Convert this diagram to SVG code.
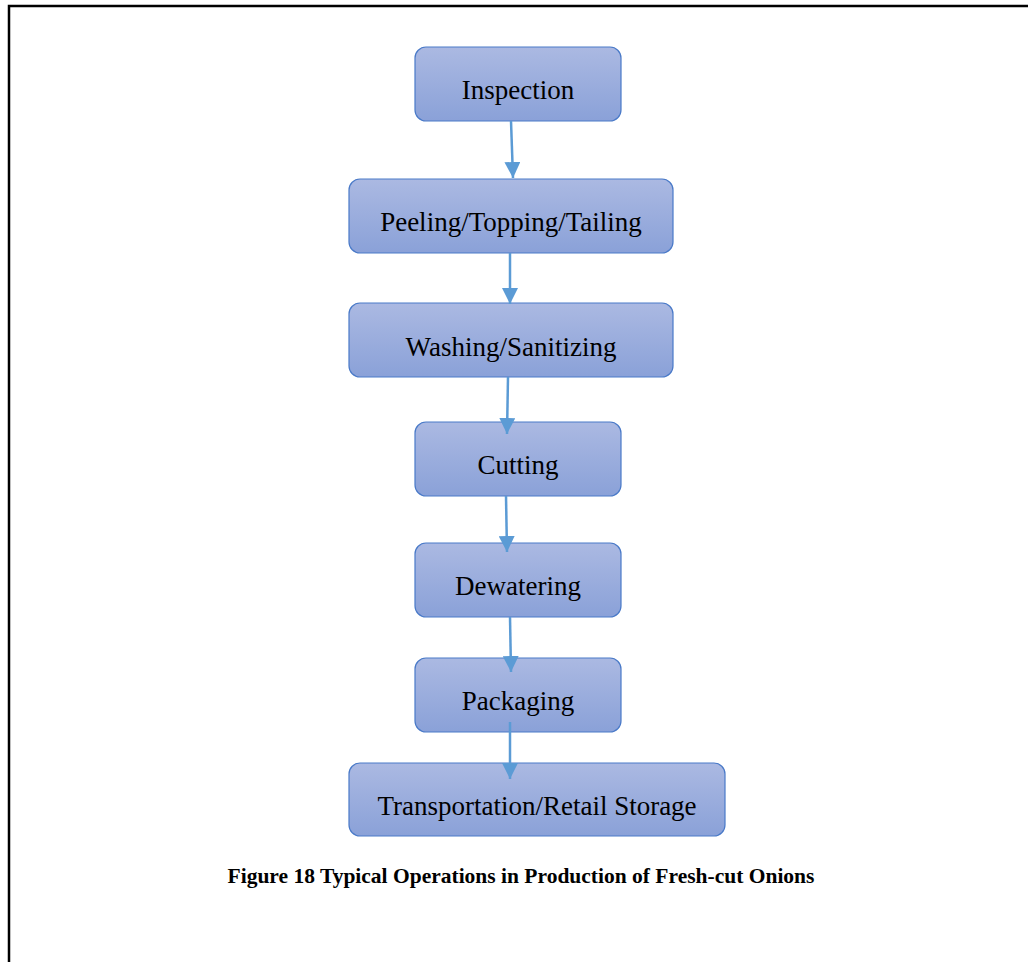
<svg xmlns="http://www.w3.org/2000/svg" width="1028" height="962" viewBox="0 0 1028 962">
<style>
.box{fill:url(#g);stroke:#4a7ac8;stroke-width:1.2}
.lbl{font-family:"Liberation Serif","Times New Roman",serif;font-size:27px;fill:#000;text-anchor:middle}
.cap{font-family:"Liberation Serif","Times New Roman",serif;font-size:21.5px;font-weight:bold;fill:#000;text-anchor:middle}
.con{stroke:#5b9bd5;stroke-width:2.5;fill:none;marker-end:url(#ah)}
</style>
<defs>
<linearGradient id="g" x1="0" y1="0" x2="0" y2="1">
<stop offset="0" stop-color="#abb9e2"/>
<stop offset="1" stop-color="#8aa1d8"/>
</linearGradient>
<marker id="ah" viewBox="0 0 10 10" refX="10" refY="5" markerWidth="6.4" markerHeight="6.4" markerUnits="strokeWidth" orient="auto">
<path d="M0,0 L10,5 L0,10 z" fill="#5b9bd5"/>
</marker>
</defs>
<rect x="0" y="0" width="1028" height="962" fill="#fff"/>
<path d="M9,962 V6 H1028" stroke="#000" stroke-width="2.5" fill="none"/>
<g id="inspection"><rect class="box" x="415" y="47" width="206" height="74" rx="11"/><text class="lbl" x="518" y="99">Inspection</text></g>
<g id="peeling"><rect class="box" x="349" y="179" width="324" height="74" rx="11"/><text class="lbl" x="511" y="231">Peeling/Topping/Tailing</text></g>
<g id="washing"><rect class="box" x="349" y="303" width="324" height="74" rx="11"/><text class="lbl" x="511" y="356">Washing/Sanitizing</text></g>
<g id="cutting"><rect class="box" x="415" y="422" width="206" height="74" rx="11"/><text class="lbl" x="518" y="474">Cutting</text></g>
<g id="dewatering"><rect class="box" x="415" y="543" width="206" height="74" rx="11"/><text class="lbl" x="518" y="595">Dewatering</text></g>
<g id="packaging"><rect class="box" x="415" y="658" width="206" height="74" rx="11"/><text class="lbl" x="518" y="710">Packaging</text></g>
<g id="transportation"><rect class="box" x="349" y="763" width="376" height="73" rx="11"/><text class="lbl" x="537" y="815">Transportation/Retail Storage</text></g>
<g id="connectors">
<line class="con" x1="511" y1="121" x2="513" y2="178"/>
<line class="con" x1="510" y1="253" x2="510" y2="304"/>
<line class="con" x1="508" y1="377" x2="507" y2="434"/>
<line class="con" x1="506" y1="496" x2="507" y2="552"/>
<line class="con" x1="510" y1="617" x2="511" y2="672"/>
<line class="con" x1="510" y1="722" x2="510" y2="779"/>
</g>
<g id="caption"><text class="cap" x="521" y="883">Figure 18 Typical Operations in Production of Fresh-cut Onions</text></g>
</svg>
